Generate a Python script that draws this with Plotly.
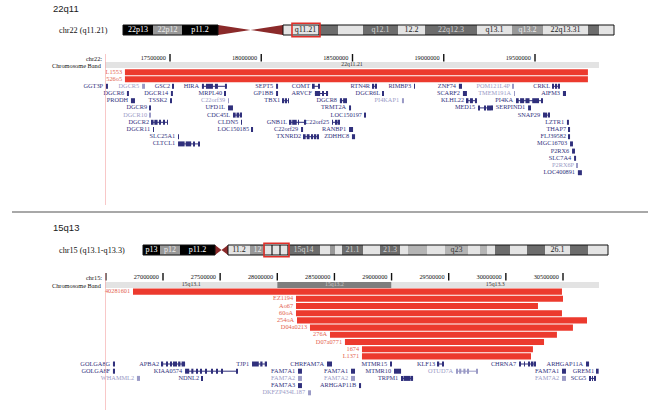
import plotly.graph_objects as go

# ======================= DATA =======================
# ---- panel 1 : 22q11 ----
top_title = "22q11"
top_chr_label = "chr22 (q11.21)"
top_axis_label = "chr22:"
top_view = [17143800, 19850700]
top_ticks = [17500000, 18000000, 18500000, 19000000, 19500000]
top_tick_labels = ["17500000", "18000000", "18500000", "19000000", "19500000"]
top_band_names = ["22q11.21"]
top_band_start = [17100000]
top_band_end = [19900000]
top_band_stain = ["gneg"]

# ideogram (drawing units of the overview strip)
top_ideo_labels = ["22p13", "22p12", "p11.2", "", "", "q11.21", "", "", "q12.1", "12.2",
                   "22q12.3", "q13.1", "q13.2", "22q13.31", "", ""]
top_ideo_start = [123, 153, 182, 218, 283, 293, 318, 338, 363, 398, 425, 477, 512, 543, 588, 599]
top_ideo_end = [153, 182, 218, 283, 293, 318, 338, 363, 398, 425, 477, 512, 543, 588, 599, 614]
top_ideo_stain = ["gpos100", "gpos50", "gpos100", "acen", "gneg", "gneg", "gpos75", "gneg",
                  "gpos75", "gneg", "gpos75", "gneg", "gpos50", "gneg", "gpos75", "gneg"]
top_ideo_focus = ["q11.21"]

top_clone_names = ["L1553", "526o5"]
top_clone_start = [17253000, 17253000]
top_clone_end = [19790000, 19790000]

top_gene_names = ["GGT3P", "DGCR5", "GSC2", "HIRA", "SEPT5", "COMT", "RTN4R", "RIMBP3", "ZNF74", "POM121L4P", "CRKL",
                  "DGCR6", "DGCR14", "MRPL40", "GP1BB", "ARVCF", "DGCR6L", "SCARF2", "TMEM191A", "AIFM3",
                  "PRODH", "TSSK2", "C22orf39", "TBX1", "DGCR8", "PI4KAP1", "KLHL22", "PI4KA",
                  "DGCR9", "UFD1L", "TRMT2A", "MED15", "SERPIND1",
                  "DGCR10", "CDC45L", "LOC150197", "SNAP29",
                  "DGCR2", "CLDN5", "GNB1L", "C22orf25", "LZTR1",
                  "DGCR11", "LOC150185", "C22orf29", "RANBP1", "THAP7",
                  "SLC25A1", "TXNRD2", "ZDHHC8", "FLJ39582",
                  "CLTCL1", "MGC16703",
                  "P2RX6", "SLC7A4", "P2RX6P", "LOC400891"]
top_gene_start_kb = [17149, 17347, 17516, 17675, 18081, 18283, 18612, 18837, 19083, 19379, 19598,
                     17264, 17505, 17801, 18081, 18294, 18667, 19105, 19385, 19653,
                     17286, 17500, 17818, 18119, 18431, 18771, 19127, 19396,
                     17390, 17818, 18481, 19188, 19462,
                     17390, 17845, 18568, 19544,
                     17401, 17889, 18157, 18388, 19675,
                     17407, 17949, 18218, 18481, 19686,
                     17544, 18234, 18497, 19686,
                     17544, 19692,
                     19703, 19714, 19730, 19735]
top_gene_end_kb = [17160, 17363, 17522, 17812, 18092, 18322, 18634, 18842, 19100, 19385, 19637,
                   17275, 17516, 17807, 18092, 18366, 18672, 19127, 19390, 19670,
                   17308, 17511, 17823, 18152, 18470, 18782, 19182, 19544,
                   17396, 17845, 18492, 19270, 19478,
                   17396, 17894, 18574, 19582,
                   17489, 17894, 18240, 18431, 19686,
                   17412, 17955, 18229, 18503, 19692,
                   17549, 18311, 18514, 19692,
                   17664, 19708,
                   19719, 19725, 19735, 19757]
top_gene_row = [0] * 11 + [1] * 9 + [2] * 8 + [3] * 5 + [4] * 4 + [5] * 5 + [6] * 5 + [7] * 4 + [8] * 2 + [9, 10, 11, 12]
top_gene_muted = ["DGCR5", "POM121L4P", "TMEM191A", "C22orf39", "PI4KAP1", "DGCR10", "P2RX6P"]

# ---- panel 2 : 15q13 ----
bot_title = "15q13"
bot_chr_label = "chr15 (q13.1-q13.3)"
bot_axis_label = "chr15:"
bot_view = [26492500, 30815000]
bot_ticks = [26500000, 27000000, 27500000, 28000000, 28500000, 29000000, 29500000, 30000000, 30500000]
bot_tick_labels = ["", "27000000", "27500000", "28000000", "28500000", "29000000", "29500000", "30000000", "30500000"]
bot_band_names = ["15q13.1", "15q13.2", "15q13.3"]
bot_band_start = [26400000, 28000000, 29000000]
bot_band_end = [28000000, 29000000, 30900000]
bot_band_stain = ["gneg", "gpos50", "gneg"]

bot_ideo_labels = ["p13", "p12", "p11.2", "", "11.2", "12", "", "", "", "", "", "15q14", "", "", "", "21.1", "", "21.3",
                   "", "", "", "q23", "", "", "", "", "", "", "26.1", "", ""]
bot_ideo_start = [143, 160, 180, 215, 228, 250, 265, 271, 273, 279, 281, 287, 320, 330, 335, 342, 363, 380,
                  400, 408, 427, 445, 468, 480, 487, 495, 510, 527, 545, 570, 588]
bot_ideo_end = [160, 180, 215, 228, 250, 265, 271, 273, 279, 281, 287, 320, 330, 335, 342, 363, 380, 400,
                408, 427, 445, 468, 480, 487, 495, 510, 527, 545, 570, 588, 608]
bot_ideo_stain = ["gpos100", "gpos50", "gpos100", "acen", "gneg", "gpos50", "gneg", "gpos75", "gneg", "gpos75", "gneg",
                  "gpos75", "gneg", "gpos50", "gneg", "gpos75", "gneg", "gpos75", "gneg", "gpos25", "gneg", "gpos25",
                  "gneg", "gpos25", "gneg", "gpos75", "gneg", "gpos75", "gneg", "gpos75", "gneg"]
bot_ideo_focus_range = [265, 287]

bot_clone_names = ["40281601", "EZ1194", "Ao67", "60oA", "254oA", "D04a0213", "276A", "D07a0771", "1674", "L1371"]
bot_clone_start = [26737500, 28163700, 28163700, 28163700, 28172500, 28286000, 28461000, 28592000, 28741000, 28741000]
bot_clone_end = [30491000, 30500000, 30281000, 30491000, 30710000, 30587000, 30447000, 30334000, 30237000, 30220000]

bot_gene_names = ["GOLGA8G", "APBA2", "TJP1", "CHRFAM7A", "MTMR15", "KLF13", "CHRNA7", "ARHGAP11A",
                  "GOLGA8F", "KIAA0574", "FAM7A1", "FAM7A1", "MTMR10", "OTUD7A", "FAM7A1", "GREM1",
                  "WHAMML2", "NDNL2", "FAM7A2", "FAM7A2", "TRPM1", "FAM7A2", "SCG5",
                  "FAM7A3", "ARHGAP11B",
                  "DKFZP434L187"]
bot_gene_start_kb = [26562, 26991, 27779, 28435, 28986, 29406, 30115, 30701,
                     26562, 27193, 28181, 28645, 29021, 29564, 30491, 30797,
                     26772, 27341, 28181, 28645, 29083, 30491, 30728,
                     28181, 28715,
                     28269]
bot_gene_end_kb = [26580, 27193, 27910, 28479, 29004, 29459, 30264, 30728,
                   26580, 27648, 28216, 28680, 29083, 29748, 30526, 30812,
                   26799, 27350, 28216, 28680, 29188, 30526, 30789,
                   28216, 28733,
                   28295]
bot_gene_row = [0] * 8 + [1] * 8 + [2] * 7 + [3] * 2 + [4]
bot_gene_muted = ["OTUD7A", "WHAMML2", "FAM7A2", "DKFZP434L187"]

# exon blocks (fraction of gene span) for multi-exon genes
gene_exons = {
    "HIRA": [(0, .08), (.16, .44), (.52, .64), (.92, 1)],
    "COMT": [(0, .25), (.75, 1)],
    "ARVCF": [(0, .4), (.55, .62), (.85, 1)],
    "RTN4R": [(0, .3), (.75, 1)],
    "TBX1": [(0, .2), (.4, .6), (.85, 1)],
    "DGCR8": [(0, .3), (.45, 1)],
    "KLHL22": [(0, .15), (.3, .6), (.8, 1)],
    "PI4KA": [(0, .1), (.15, .3), (.35, .5), (.6, .85), (.95, 1)],
    "MED15": [(0, .07), (.4, .5), (.6, .7), (.75, .85), (.9, 1)],
    "SNAP29": [(0, .15), (.4, .6), (.85, 1)],
    "CDC45L": [(0, .3), (.4, .7), (.8, 1)],
    "DGCR2": [(0, .1), (.15, .35), (.5, .55), (.75, .8), (.95, 1)],
    "GNB1L": [(0, .1), (.15, .45), (.55, .6), (.95, 1)],
    "C22orf25": [(0, .12), (.45, .7), (.8, 1)],
    "TXNRD2": [(0, .12), (.2, .4), (.5, .65), (.75, .88), (.95, 1)],
    "CLTCL1": [(0, .3), (.35, .6), (.7, .75), (.95, 1)],
    "CRKL": [(0, .15), (.4, .6), (.85, 1)],
    "APBA2": [(0, .05), (.2, .25), (.35, .4), (.5, .55), (.6, .65), (.7, .8), (.85, 1)],
    "KIAA0574": [(0, .08), (.12, .16), (.22, .24), (.3, .32), (.4, .42), (.5, .52), (.6, .62), (.7, .72), (.98, 1)],
    "TJP1": [(0, .45), (.55, .7), (.85, 1)],
    "KLF13": [(0, .2), (.8, 1)],
    "CHRNA7": [(0, .06), (.3, .35), (.55, .65), (.75, .85), (.92, 1)],
    "OTUD7A": [(0, .08), (.15, .25), (.35, .45), (.55, .6), (.97, 1)],
    "TRPM1": [(0, .1), (.2, .8), (.9, 1)],
    "SCG5": [(0, .15), (.45, .55), (.85, 1)],
}

# ======================= STYLE =======================
W, H = 661, 416
SERIF = "Liberation Serif"
SANS = "Liberation Sans"
GENE_DARK = "#30307c"
GENE_MUTED = "#9a9ac6"
CLONE_RED = "#ec3a2e"
CLONE_TXT = "#e4624e"
STAIN_FILL = {"gpos100": "#000000", "gpos75": "#6c6c6c", "gpos50": "#989898", "gpos25": "#b4b4b4",
              "gneg": "#e4e4e4", "acen": "#8b2a2a"}
STAIN_TXT = {"gpos100": "#ffffff", "gpos75": "#d2d2d2", "gpos50": "#ececec", "gpos25": "#3a3a3a",
             "gneg": "#222222", "acen": "#ffffff"}
BAND_FILL = {"gneg": "#e3e3e3", "gpos50": "#7e7e7e"}
BAND_TXT = {"gneg": "#333333", "gpos50": "#c8c8c8"}
FS = 6.3

fig = go.Figure()
shapes = []
annotations = []


def px(x):
    return x / W


def panel(xa, Y, title, chr_label, axis_label, view, ticks, tick_labels,
          band_names, band_start, band_end, band_stain,
          ideo_labels, ideo_start, ideo_end, ideo_stain, focus_range,
          clone_names, clone_start, clone_end,
          gene_names, gene_start_kb, gene_end_kb, gene_row, gene_muted):
    # ---------- title & chromosome label ----------
    annotations.append(dict(text=title, x=px(51), xref="paper", xanchor="left", y=Y["title"], yref="y",
                            yanchor="middle", showarrow=False, font=dict(family=SANS, size=9.5, color="#1a1a1a")))
    cy = Y["ideo"]
    annotations.append(dict(text=chr_label, x=px(57), xref="paper", xanchor="left", y=cy, yref="y",
                            yanchor="middle", showarrow=False, font=dict(family=SERIF, size=8.2, color="#111")))
    # ---------- ideogram ----------
    hh = 10
    idx = [i for i, s in enumerate(ideo_stain) if s != "acen"]
    fig.add_trace(go.Bar(orientation="h", base=[ideo_start[i] for i in idx],
                         x=[ideo_end[i] - ideo_start[i] for i in idx], y=[cy] * len(idx), width=hh,
                         marker=dict(color=[STAIN_FILL[ideo_stain[i]] for i in idx], line=dict(width=0)),
                         xaxis="x3", yaxis="y2", hoverinfo="skip"))
    ci = ideo_stain.index("acen")
    s, e = ideo_start[ci], ideo_end[ci]
    m = (s + e) / 2
    fig.add_trace(go.Scatter(x=[s, m, s, s, None, e, m, e, e], y=[cy - hh / 2, cy, cy + hh / 2, cy - hh / 2, None,
                                                              cy - hh / 2, cy, cy + hh / 2, cy - hh / 2],
                             fill="toself", fillcolor=STAIN_FILL["acen"], mode="lines", line=dict(width=0),
                             xaxis="x3", yaxis="y2", hoverinfo="skip"))
    for a, b in [(ideo_start[0], s), (e, ideo_end[-1])]:
        shapes.append(dict(type="rect", xref="x3", yref="y2", x0=a, x1=b, y0=cy - hh / 2, y1=cy + hh / 2,
                           line=dict(color="#111", width=1)))
    li = [i for i, t in enumerate(ideo_labels) if t]
    fig.add_trace(go.Scatter(x=[(ideo_start[i] + ideo_end[i]) / 2 for i in li], y=[cy] * len(li),
                             text=[ideo_labels[i] for i in li], mode="text", textposition="middle center",
                             textfont=dict(family=SERIF, size=8, color=[STAIN_TXT[ideo_stain[i]] for i in li]),
                             xaxis="x3", yaxis="y2", hoverinfo="skip", cliponaxis=False))
    shapes.append(dict(type="rect", xref="x3", yref="y2", x0=focus_range[0] - 1, x1=focus_range[1] + 2,
                       y0=cy - 6.8, y1=cy + 6.8, line=dict(color="#e0302a", width=1.6)))

    # ---------- coordinate axis ----------
    ay = Y["axis"]
    annotations.append(dict(text=axis_label, x=px(104), xref="paper", xanchor="right", y=ay, yref="y",
                            yanchor="middle", showarrow=False, font=dict(family=SERIF, size=FS, color="#111")))
    tx, ty = [], []
    for t in ticks:
        tx += [t, t, None]
        ty += [ay - 4, ay + 3.5, None]
    fig.add_trace(go.Scatter(x=tx, y=ty, mode="lines", line=dict(color="#111", width=1.4), xaxis=xa, yaxis="y",
                             hoverinfo="skip"))
    lt = [i for i, t in enumerate(tick_labels) if t]
    fig.add_trace(go.Scatter(x=[ticks[i] for i in lt], y=[ay] * len(lt), text=[tick_labels[i] for i in lt],
                             mode="markers+text", marker=dict(size=5, opacity=0), textposition="middle left",
                             textfont=dict(family=SERIF, size=FS, color="#111"), xaxis=xa, yaxis="y",
                             hoverinfo="skip", cliponaxis=False))

    # ---------- chromosome band row ----------
    by = Y["band"]
    annotations.append(dict(text="Chromosome Band", x=px(104), xref="paper", xanchor="right", y=by, yref="y",
                            yanchor="middle", showarrow=False, font=dict(family=SERIF, size=FS, color="#111")))
    bs = [max(v, view[0]) for v in band_start]
    be = [min(v, view[1]) for v in band_end]
    fig.add_trace(go.Bar(orientation="h", base=bs, x=[b - a for a, b in zip(bs, be)], y=[by] * len(bs), width=6,
                         marker=dict(color=[BAND_FILL[s_] for s_ in band_stain], line=dict(width=0)),
                         xaxis=xa, yaxis="y", hoverinfo="skip"))
    fig.add_trace(go.Scatter(x=[(a + b) / 2 for a, b in zip(bs, be)], y=[by] * len(bs), text=band_names,
                             mode="text", textposition="middle center",
                             textfont=dict(family=SERIF, size=5.8, color=[BAND_TXT[s_] for s_ in band_stain]),
                             xaxis=xa, yaxis="y", hoverinfo="skip", cliponaxis=False))

    # ---------- clones ----------
    cys = [Y["clone0"] + Y["cstep"] * i for i in range(len(clone_names))]
    fig.add_trace(go.Bar(orientation="h", base=clone_start, x=[b - a for a, b in zip(clone_start, clone_end)],
                         y=cys, width=6.1, marker=dict(color=CLONE_RED, line=dict(width=0)),
                         xaxis=xa, yaxis="y", hoverinfo="skip"))
    fig.add_trace(go.Scatter(x=clone_start, y=cys, text=clone_names, mode="markers+text",
                             marker=dict(size=3, opacity=0), textposition="middle left",
                             textfont=dict(family=SERIF, size=FS, color=CLONE_TXT), xaxis=xa, yaxis="y",
                             hoverinfo="skip", cliponaxis=False))

    # ---------- genes ----------
    gs = [v * 1000 for v in gene_start_kb]
    ge = [v * 1000 for v in gene_end_kb]
    gy = [Y["gene0"] + Y["gstep"] * r for r in gene_row]
    gcol = [GENE_MUTED if n in gene_muted else GENE_DARK for n in gene_names]
    for col in (GENE_DARK, GENE_MUTED):
        lx, ly = [], []
        for n, a, b, y, c in zip(gene_names, gs, ge, gy, gcol):
            if c == col and n in gene_exons:
                lx += [a, b, None]
                ly += [y, y, None]
        if lx:
            fig.add_trace(go.Scatter(x=lx, y=ly, mode="lines", line=dict(color=col, width=1),
                                     xaxis=xa, yaxis="y", hoverinfo="skip"))
    eb, ex, ey, ec = [], [], [], []
    for n, a, b, y, c in zip(gene_names, gs, ge, gy, gcol):
        blocks = gene_exons.get(n, [(0, 1)])
        for f0, f1 in blocks:
            eb.append(a + f0 * (b - a))
            ex.append((f1 - f0) * (b - a))
            ey.append(y)
            ec.append(c)
    fig.add_trace(go.Bar(orientation="h", base=eb, x=ex, y=ey, width=5,
                         marker=dict(color=ec, line=dict(width=0)), xaxis=xa, yaxis="y", hoverinfo="skip"))
    fig.add_trace(go.Scatter(x=gs, y=gy, text=gene_names, mode="markers+text",
                             marker=dict(size=3, opacity=0), textposition="middle left",
                             textfont=dict(family=SERIF, size=FS, color=gcol), xaxis=xa, yaxis="y",
                             hoverinfo="skip", cliponaxis=False))

    # ---------- view start marker ----------
    shapes.append(dict(type="line", xref=xa, yref="y", x0=view[0], x1=view[0], y0=ay - 4, y1=Y["pink_end"],
                       line=dict(color="#f3a3a3", width=1.2)))


TOP_Y = dict(title=8, ideo=30, axis=58, band=65, clone0=72.3, cstep=6.9, gene0=86.3, gstep=7.2, pink_end=205)
BOT_Y = dict(title=227, ideo=250, axis=277, band=285, clone0=291.6, cstep=7.2, gene0=364, gstep=7.2, pink_end=410)

panel("x", TOP_Y, top_title, top_chr_label, top_axis_label, top_view, top_ticks, top_tick_labels,
      top_band_names, top_band_start, top_band_end, top_band_stain,
      top_ideo_labels, top_ideo_start, top_ideo_end, top_ideo_stain,
      [top_ideo_start[top_ideo_labels.index(top_ideo_focus[0])], top_ideo_end[top_ideo_labels.index(top_ideo_focus[0])]],
      top_clone_names, top_clone_start, top_clone_end,
      top_gene_names, top_gene_start_kb, top_gene_end_kb, top_gene_row, top_gene_muted)

panel("x2", BOT_Y, bot_title, bot_chr_label, bot_axis_label, bot_view, bot_ticks, bot_tick_labels,
      bot_band_names, bot_band_start, bot_band_end, bot_band_stain,
      bot_ideo_labels, bot_ideo_start, bot_ideo_end, bot_ideo_stain, bot_ideo_focus_range,
      bot_clone_names, bot_clone_start, bot_clone_end,
      bot_gene_names, bot_gene_start_kb, bot_gene_end_kb, bot_gene_row, bot_gene_muted)

# separator between panels
shapes.append(dict(type="line", xref="paper", yref="y", x0=px(12), x1=px(648), y0=212, y1=212,
                   line=dict(color="#a8a8a8", width=2)))

fig.update_layout(
    width=W, height=H, margin=dict(l=0, r=0, t=0, b=0),
    paper_bgcolor="white", plot_bgcolor="rgba(0,0,0,0)",
    showlegend=False, barmode="overlay",
    xaxis=dict(domain=[px(105), px(599)], range=top_view, visible=False, fixedrange=True),
    xaxis2=dict(overlaying="x", anchor="y", range=bot_view, visible=False, fixedrange=True),
    yaxis=dict(domain=[0, 1], range=[H, 0], visible=False, fixedrange=True),
    xaxis3=dict(domain=[0, 1], range=[0, W], visible=False, anchor="y2", fixedrange=True),
    yaxis2=dict(domain=[0, 1], range=[H, 0], visible=False, anchor="x3", fixedrange=True),
    shapes=shapes, annotations=annotations,
)

fig.write_html("out.html", config={"displayModeBar": False},
               post_script="document.body.style.margin='0';document.body.style.overflow='hidden';")
